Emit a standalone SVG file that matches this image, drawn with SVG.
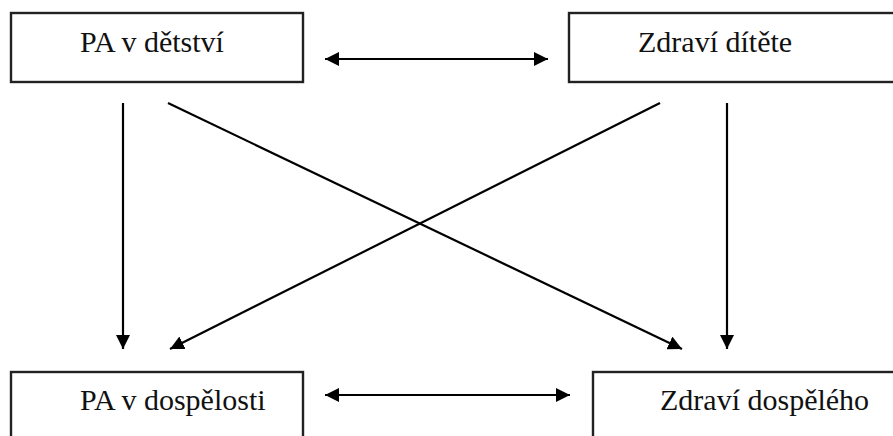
<svg xmlns="http://www.w3.org/2000/svg" width="893" height="436" viewBox="0 0 893 436">
<defs>
<style>
.box{fill:#fff;stroke:#222;stroke-width:2.4}
.lbl{font-family:"Liberation Serif","Times New Roman",serif;font-size:30px;fill:#111}
.con{stroke:#000;stroke-width:2.2;fill:none}
</style>
<marker id="ah" markerUnits="userSpaceOnUse" markerWidth="15" markerHeight="14" refX="14" refY="7" orient="auto-start-reverse" viewBox="0 0 15 14">
<path d="M0,0 L14,7 L0,14 z" fill="#000"/>
</marker>
</defs>
<rect width="893" height="436" fill="#fff"/>
<g id="pa-detstvi">
<rect class="box" x="11" y="13" width="292" height="69"/>
<text class="lbl" x="80" y="52">PA v dětství</text>
</g>
<g id="zdravi-ditete">
<rect class="box" x="569" y="13" width="340" height="69"/>
<text class="lbl" x="638" y="52">Zdraví dítěte</text>
</g>
<g id="pa-dospelosti">
<rect class="box" x="11" y="372" width="292" height="100"/>
<text class="lbl" x="80" y="410">PA v dospělosti</text>
</g>
<g id="zdravi-dospeleho">
<rect class="box" x="593" y="372" width="320" height="100"/>
<text class="lbl" x="660" y="410">Zdraví dospělého</text>
</g>
<g id="connectors">
<line class="con" x1="325" y1="59" x2="548" y2="59" marker-start="url(#ah)" marker-end="url(#ah)"/>
<line class="con" x1="325" y1="395" x2="570" y2="395" marker-start="url(#ah)" marker-end="url(#ah)"/>
<line class="con" x1="123" y1="103" x2="123" y2="349" marker-end="url(#ah)"/>
<line class="con" x1="727" y1="103" x2="727" y2="349" marker-end="url(#ah)"/>
<line class="con" x1="168" y1="103" x2="682" y2="349" marker-end="url(#ah)"/>
<line class="con" x1="660" y1="103" x2="170" y2="349" marker-end="url(#ah)"/>
</g>
</svg>
